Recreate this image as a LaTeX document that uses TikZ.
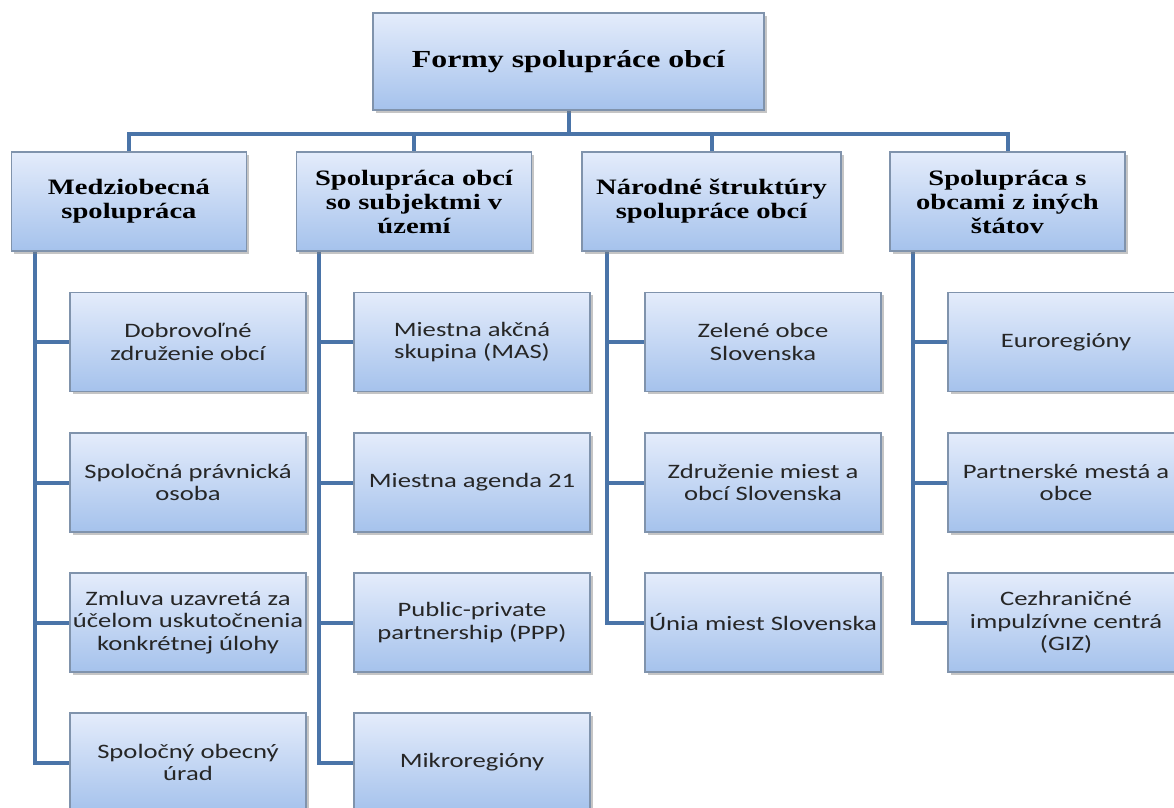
\documentclass[tikz,border=0pt]{standalone}
\usepackage{fontspec}
\setmainfont[FakeStretch=1.3]{Liberation Serif}
\newfontfamily\childfont[FakeStretch=1.3]{Carlito}
\usetikzlibrary{positioning, shadows, calc, backgrounds}

\definecolor{boxtop}{HTML}{E4ECFB}
\definecolor{boxbot}{HTML}{A5C2EC}
\definecolor{boxline}{HTML}{8093AC}
\definecolor{linkblue}{HTML}{4A74A8}

\tikzset{
  card/.style={rectangle, draw=boxline, line width=1.2pt, top color=boxtop, bottom color=boxbot,
    align=center, inner sep=2pt, drop shadow={shadow xshift=2.5pt, shadow yshift=-2.5pt, opacity=0.45}},
  rootcard/.style={card, minimum width=391pt, minimum height=97pt, font=\fontsize{24.5}{30}\selectfont\bfseries},
  headcard/.style={card, minimum width=235pt, minimum height=99pt, font=\fontsize{22}{24}\selectfont\bfseries},
  itemcard/.style={card, minimum width=236pt, minimum height=99pt, font=\childfont\fontsize{20.5}{22.5}\selectfont, text=black!85},
  link/.style={draw=linkblue, line width=4pt}
}

\begin{document}
\begin{tikzpicture}[x=1pt, y=-1pt]
    \useasboundingbox (0,0) rectangle (1174,807);
    \clip (0,0) rectangle (1174,807);

    % Root
    \node[rootcard] (root) at (568.5,61.5) {Formy spolupráce obcí};

    % Level one
    \node[headcard] (h1) at (129,201.5) {Medziobecná\\spolupráca};
    \node[headcard] (h2) at (414,201.5) {Spolupráca obcí\\so subjektmi v\\území};
    \node[headcard, minimum width=259pt] (h3) at (711.5,201.5) {Národné štruktúry\\spolupráce obcí};
    \node[headcard] (h4) at (1007.5,201.5) {Spolupráca s\\obcami z iných\\štátov};

    % Level two
    \node[itemcard] (a1) at (188,342) {Dobrovoľné\\združenie obcí};
    \node[itemcard] (a2) at (188,482.5) {Spoločná právnická\\osoba};
    \node[itemcard] (a3) at (188,622.5) {Zmluva uzavretá za\\účelom uskutočnenia\\konkrétnej úlohy};
    \node[itemcard] (a4) at (188,762.5) {Spoločný obecný\\úrad};

    \node[itemcard] (b1) at (472,342) {Miestna akčná\\skupina (MAS)};
    \node[itemcard] (b2) at (472,482.5) {Miestna agenda 21};
    \node[itemcard] (b3) at (472,622.5) {Public-private\\partnership (PPP)};
    \node[itemcard] (b4) at (472,762.5) {Mikroregióny};

    \node[itemcard] (c1) at (763,342) {Zelené obce\\Slovenska};
    \node[itemcard] (c2) at (763,482.5) {Združenie miest a\\obcí Slovenska};
    \node[itemcard] (c3) at (763,622.5) {Únia miest Slovenska};

    \node[itemcard] (d1) at (1066,342) {Euroregióny};
    \node[itemcard] (d2) at (1066,482.5) {Partnerské mestá a\\obce};
    \node[itemcard] (d3) at (1066,622.5) {Cezhraničné\\impulzívne centrá\\(GIZ)};

    % Connectors
    \begin{scope}[on background layer]
    \fill[white] (0,0) rectangle (1174,807);
    \foreach \h in {h1,h2,h3,h4}
      \draw[link] (root.south) -- ++(0,23) -| (\h.north);
    \foreach \c in {a1,a2,a3,a4}
      \draw[link] ([xshift=24pt]h1.south west) |- (\c.west);
    \foreach \c in {b1,b2,b3,b4}
      \draw[link] ([xshift=23pt]h2.south west) |- (\c.west);
    \foreach \c in {c1,c2,c3}
      \draw[link] ([xshift=26pt]h3.south west) |- (\c.west);
    \foreach \c in {d1,d2,d3}
      \draw[link] ([xshift=24pt]h4.south west) |- (\c.west);
    \end{scope}
\end{tikzpicture}
\end{document}
